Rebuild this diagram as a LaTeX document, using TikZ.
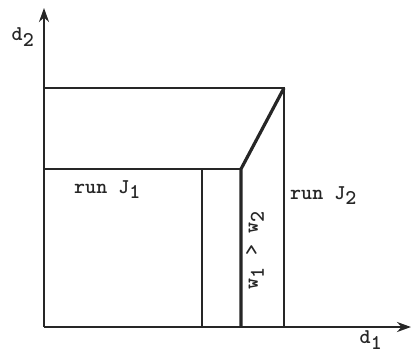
\documentclass[tikz,border=0pt]{standalone}
\usetikzlibrary{arrows.meta}
\newcommand{\tsub}[1]{$_{\texttt{#1}}$}
\begin{document}
\begin{tikzpicture}[x=1pt,y=-1pt,
  lbl/.style={font=\fontsize{21}{23}\selectfont\ttfamily\bfseries, inner sep=0pt, text=black!85},
  thin line/.style={line width=1.6pt, draw=black!85},
  thick line/.style={line width=3.2pt, draw=black!85},
  axis/.style={line width=2.4pt, draw=black!85, -{Stealth[length=14pt,width=10pt]}}]
\useasboundingbox (0,0) rectangle (412,354);
\coordinate (O) at (44,327);
\coordinate (Ytip) at (44,8);
\coordinate (Xtip) at (411,327);
\coordinate (TL) at (44,88);
\coordinate (TR) at (284,88);
\coordinate (BR) at (284,327);
\coordinate (ML) at (44,169);
\coordinate (MR) at (241,169);
\coordinate (MB) at (241,327);
\coordinate (VT) at (202,169);
\coordinate (VB) at (202,327);
\draw[thin line] (TL) -- (TR) -- (BR);
\draw[thin line] (ML) -- (MR);
\draw[thin line] (VT) -- (VB);
\draw[thick line, line join=round] (TR) -- (MR) -- (MB);
\draw[axis] (O) -- (Ytip);
\draw[axis] (O) -- (Xtip);
\node[lbl] (d2) at (23,37) {d\tsub{2}};
\node[lbl] (d1) at (371,340) {d\tsub{1}};
\node[lbl, anchor=base west] (j1) at (74,193) {run J\tsub{1}};
\node[lbl, anchor=base west] (j2) at (290,199) {run J\tsub{2}};
\node[lbl, rotate=90] (w) at (255,250) {w\tsub{1} > w\tsub{2}};
\end{tikzpicture}
\end{document}
